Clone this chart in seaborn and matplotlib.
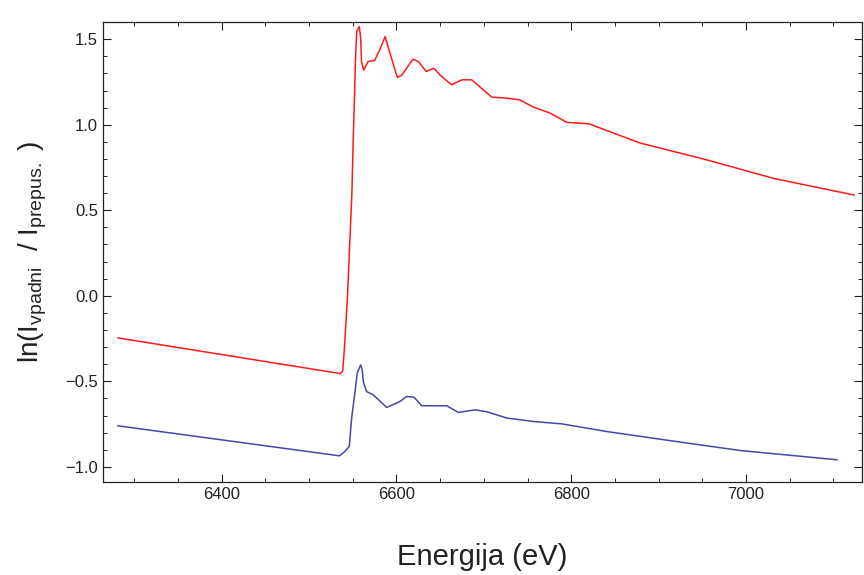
import numpy as np
import pandas as pd
import matplotlib
matplotlib.use("Agg")
import matplotlib.pyplot as plt
from matplotlib.ticker import MultipleLocator
import seaborn as sns

# Data (energy in eV, ln(I0/I))
red_e = [6281, 6536, 6538.5, 6540.5, 6544, 6549, 6550.5, 6551.5, 6553, 6554.5,
         6557.5, 6559, 6560, 6562.5, 6567.5, 6575, 6581, 6587, 6592.5, 6601,
         6606, 6619, 6625, 6634, 6643, 6650, 6663, 6675, 6686, 6709, 6726,
         6741, 6757, 6776, 6795, 6820, 6879, 6955, 7032, 7124]
red_mu = [-0.246, -0.455, -0.44, -0.30, 0.00, 0.60, 0.91, 1.08, 1.364, 1.546,
          1.575, 1.507, 1.37, 1.32, 1.37, 1.376, 1.44, 1.516, 1.42, 1.277,
          1.29, 1.384, 1.37, 1.312, 1.33, 1.29, 1.234, 1.263, 1.263, 1.162, 1.156,
          1.146, 1.103, 1.068, 1.014, 1.006, 0.893, 0.795, 0.686, 0.589]

blue_e = [6281, 6512, 6535, 6541, 6546, 6548.7, 6552.4, 6555.1, 6559, 6560.8,
          6562, 6565.8, 6573.4, 6588.8, 6604, 6611.7, 6620.1, 6628.9, 6657.5,
          6670.8, 6690, 6703.4, 6726.3, 6756.8, 6789.3, 6840.9, 6917.3, 6993.7, 7104.5]
blue_mu = [-0.76, -0.92, -0.936, -0.91, -0.881, -0.715, -0.569, -0.452, -0.404, -0.433,
           -0.501, -0.56, -0.579, -0.653, -0.618, -0.589, -0.593, -0.643, -0.643,
           -0.682, -0.667, -0.678, -0.715, -0.735, -0.749, -0.794, -0.85, -0.905, -0.959]

x_ticks = [6400, 6600, 6800, 7000]
y_ticks = [-1.0, -0.5, 0.0, 0.5, 1.0, 1.5]

sns.set_style("ticks")
plt.rcParams['font.family'] = ['Liberation Sans', 'DejaVu Sans']
plt.rcParams['mathtext.fontset'] = 'custom'
plt.rcParams['mathtext.rm'] = 'Liberation Sans'

df_red = pd.DataFrame({'E': red_e, 'mu': red_mu})
df_blue = pd.DataFrame({'E': blue_e, 'mu': blue_mu})

fig = plt.figure(figsize=(8.64, 5.75), dpi=100)
ax = fig.add_axes([0.119, 0.162, 0.879, 0.800])

sns.lineplot(data=df_red, x='E', y='mu', ax=ax, color='#ff1a1a', linewidth=1.1,
             sort=False, estimator=None)
sns.lineplot(data=df_blue, x='E', y='mu', ax=ax, color='#4646a8', linewidth=1.1,
             sort=False, estimator=None)

ax.set_xlim(6264, 7133)
ax.set_ylim(-1.088, 1.602)
ax.set_xticks(x_ticks)
ax.set_yticks(y_ticks)
ax.set_yticklabels([f"{v:.1f}".replace('-', '\u2212') for v in y_ticks])
ax.xaxis.set_minor_locator(MultipleLocator(50))
ax.yaxis.set_minor_locator(MultipleLocator(0.1))
ax.tick_params(which='both', direction='in', top=True, right=True, labelsize=12,
               colors='#222222')
ax.tick_params(which='major', length=6, width=0.8)
ax.tick_params(which='minor', length=3, width=0.7)
for s in ax.spines.values():
    s.set_linewidth(0.9)
    s.set_color('#222222')

ax.set_xlabel('Energija (eV)', fontsize=21, color='#222222', labelpad=30)
ax.set_ylabel(r'ln(I$_{\mathrm{vpadni}}$  / I$_{\mathrm{prepus.}}$ )', fontsize=20,
              color='#222222', labelpad=12)

fig.savefig('out.png', dpi=100)
